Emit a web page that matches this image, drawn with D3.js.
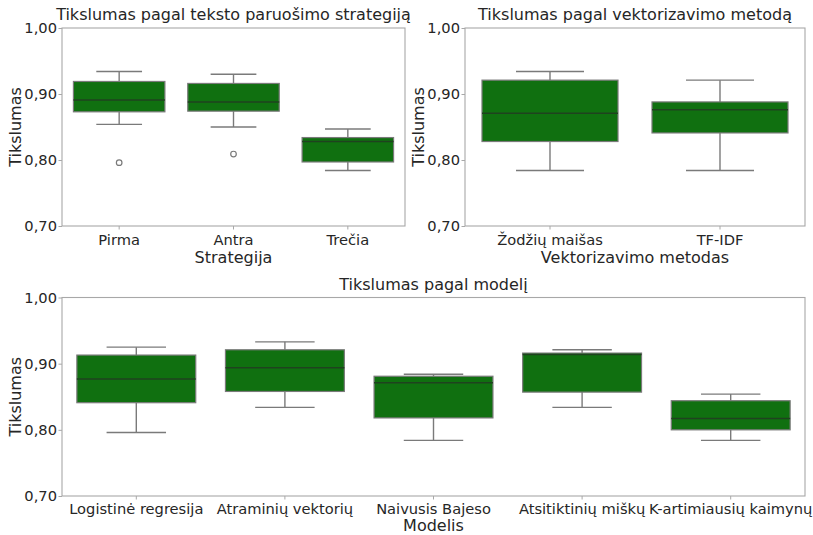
<!DOCTYPE html>
<html>
<head>
<meta charset="utf-8">
<script src="https://cdn.jsdelivr.net/npm/d3@7"></script>
<style>
  html, body { margin: 0; padding: 0; background: #fff; }
  svg { display: block; font-family: "DejaVu Sans", sans-serif; }
</style>
</head>
<body>
<svg id="chart" width="813" height="535"></svg>
<script>
// ---------- DATA ----------
const yTicks = [0.70, 0.80, 0.90, 1.00];

// Panel 1: by preprocessing strategy
const stratCats   = ["Pirma", "Antra", "Trečia"];
const stratLo     = [0.854, 0.850, 0.784];
const stratQ1     = [0.873, 0.874, 0.797];
const stratMed    = [0.891, 0.888, 0.828];
const stratQ3     = [0.919, 0.916, 0.834];
const stratHi     = [0.934, 0.930, 0.847];
const stratOut    = [[0.796], [0.809], []];

// Panel 2: by vectorization method
const vecCats  = ["Žodžių maišas", "TF-IDF"];
const vecLo    = [0.784, 0.784];
const vecQ1    = [0.828, 0.841];
const vecMed   = [0.871, 0.876];
const vecQ3    = [0.921, 0.888];
const vecHi    = [0.934, 0.921];
const vecOut   = [[], []];

// Panel 3: by model
const modCats = ["Logistinė regresija", "Atraminių vektorių", "Naivusis Bajeso", "Atsitiktinių miškų", "K-artimiausių kaimynų"];
const modLo   = [0.796, 0.834, 0.784, 0.834, 0.784];
const modQ1   = [0.841, 0.858, 0.818, 0.857, 0.800];
const modMed  = [0.877, 0.894, 0.871, 0.914, 0.817];
const modQ3   = [0.913, 0.921, 0.881, 0.916, 0.844];
const modHi   = [0.925, 0.933, 0.884, 0.921, 0.854];
const modOut  = [[], [], [], [], []];

// ---------- STYLE ----------
const textColor = "#262626";
const fillColor = "#107010";
const lineColor = "#7a7a7a";
const medColor  = "#1f421f";
const spineColor = "#a8a8a8";

const svg = d3.select("#chart");

function panel(cfg) {
  const {x0, x1, y0, y1, cats, lo, q1, med, q3, hi, out, title, xlabel, ylabelX, xlabelDy, tickPad} = cfg;
  const g = svg.append("g");
  const x = d3.scaleBand().domain(cats).range([x0, x1]).paddingInner(0).paddingOuter(0);
  const y = d3.scaleLinear().domain([0.70, 1.00]).range([y1, y0]);
  const bw = x.bandwidth();
  const fmt = v => d3.format(".2f")(v).replace(".", ",");

  cats.forEach((c, i) => {
    const cx = x(c) + bw / 2;
    const boxW = bw * 0.8, capW = bw * 0.4;
    const wl = (xa, xb, ya, yb) => g.append("line").attr("x1", xa).attr("x2", xb).attr("y1", ya).attr("y2", yb)
      .attr("stroke", lineColor).attr("stroke-width", 1.4);
    wl(cx, cx, y(q3[i]), y(hi[i]));
    wl(cx, cx, y(q1[i]), y(lo[i]));
    wl(cx - capW / 2, cx + capW / 2, y(hi[i]), y(hi[i]));
    wl(cx - capW / 2, cx + capW / 2, y(lo[i]), y(lo[i]));
    g.append("rect").attr("x", cx - boxW / 2).attr("y", y(q3[i]))
      .attr("width", boxW).attr("height", y(q1[i]) - y(q3[i]))
      .attr("fill", fillColor).attr("stroke", lineColor).attr("stroke-width", 1.2);
    g.append("line").attr("x1", cx - boxW / 2).attr("x2", cx + boxW / 2).attr("y1", y(med[i])).attr("y2", y(med[i]))
      .attr("stroke", medColor).attr("stroke-width", 1.5);
    out[i].forEach(v => {
      g.append("circle").attr("cx", cx).attr("cy", y(v)).attr("r", 2.8)
        .attr("fill", "none").attr("stroke", lineColor).attr("stroke-width", 1.2);
    });
  });

  const ya = g.append("g").attr("transform", `translate(${x0},0)`)
    .call(d3.axisLeft(y).tickValues(yTicks).tickFormat(fmt).tickSize(3.5).tickPadding(1.5));
  ya.select(".domain").remove();
  ya.selectAll("line").attr("stroke", spineColor);
  ya.selectAll("text").attr("fill", textColor).style("font-size", "14.67px")
    .style("font-family", "'DejaVu Sans', sans-serif");

  const xa = g.append("g").attr("transform", `translate(0,${y1})`)
    .call(d3.axisBottom(x).tickSize(3.5).tickPadding(tickPad));
  xa.select(".domain").remove();
  xa.selectAll("line").attr("stroke", spineColor);
  xa.selectAll("text").attr("fill", textColor).style("font-size", "14.67px")
    .style("font-family", "'DejaVu Sans', sans-serif");

  g.append("rect").attr("x", x0).attr("y", y0).attr("width", x1 - x0).attr("height", y1 - y0)
    .attr("fill", "none").attr("stroke", spineColor).attr("stroke-width", 1.1);

  g.append("text").attr("x", (x0 + x1) / 2).attr("y", y0 - 8).attr("text-anchor", "middle")
    .attr("fill", textColor).style("font-size", "16px").text(title);
  g.append("text").attr("x", (x0 + x1) / 2).attr("y", y1 + xlabelDy).attr("text-anchor", "middle")
    .attr("fill", textColor).style("font-size", "16px").text(xlabel);
  g.append("text").attr("transform", `translate(${ylabelX},${(y0 + y1) / 2}) rotate(-90)`)
    .attr("text-anchor", "middle").attr("fill", textColor).style("font-size", "16px").text("Tikslumas");
}

panel({x0: 62, x1: 405, y0: 28, y1: 226, cats: stratCats, lo: stratLo, q1: stratQ1, med: stratMed,
  q3: stratQ3, hi: stratHi, out: stratOut, title: "Tikslumas pagal teksto paruošimo strategiją",
  xlabel: "Strategija", ylabelX: 21, xlabelDy: 37, tickPad: 5.5});
panel({x0: 465, x1: 805, y0: 28, y1: 226, cats: vecCats, lo: vecLo, q1: vecQ1, med: vecMed,
  q3: vecQ3, hi: vecHi, out: vecOut, title: "Tikslumas pagal vektorizavimo metodą",
  xlabel: "Vektorizavimo metodas", ylabelX: 424, xlabelDy: 37, tickPad: 5.5});
panel({x0: 62, x1: 805, y0: 297.5, y1: 496, cats: modCats, lo: modLo, q1: modQ1, med: modMed,
  q3: modQ3, hi: modHi, out: modOut, title: "Tikslumas pagal modelį",
  xlabel: "Modelis", ylabelX: 21, xlabelDy: 35.3, tickPad: 4.3});
</script>
</body>
</html>
